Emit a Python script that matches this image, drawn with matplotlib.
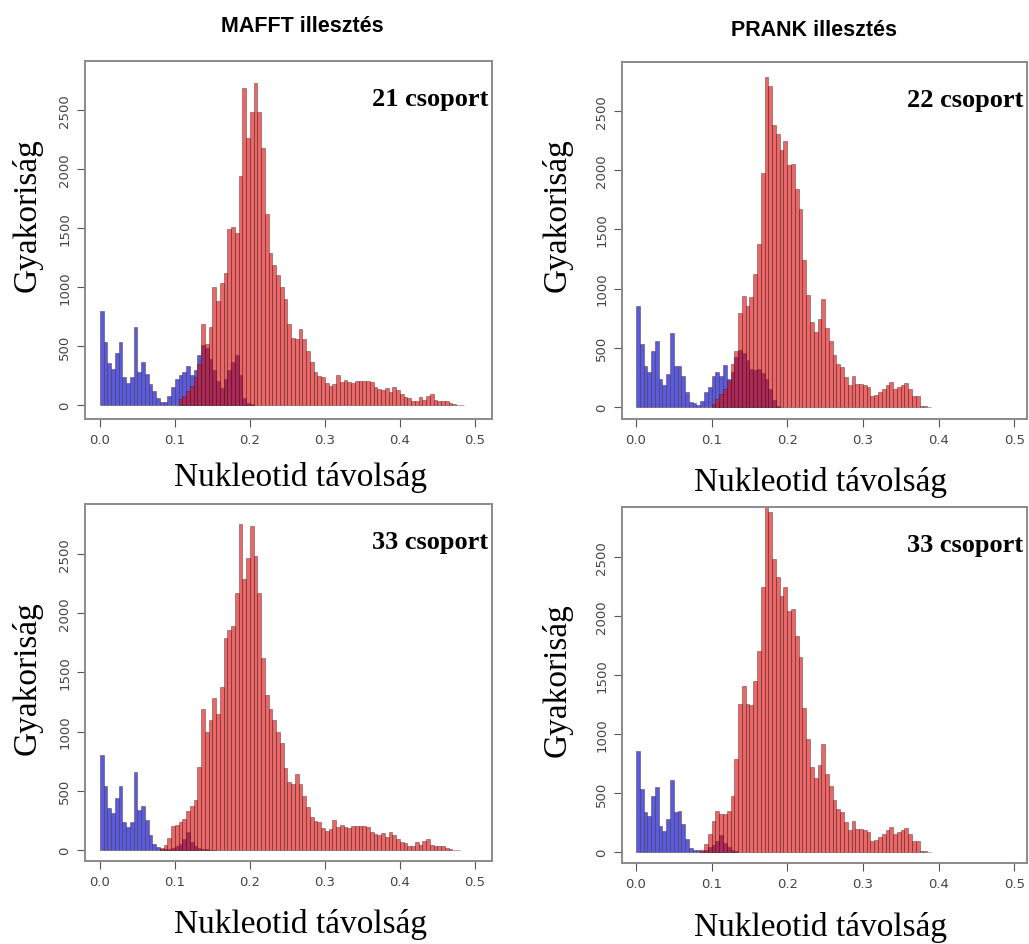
import numpy as np
import matplotlib
matplotlib.use("Agg")
import matplotlib.pyplot as plt

# bin width of every histogram (nucleotide distance)
bin_width = 0.005

# ---- MAFFT, 21 groups (top left) ----
mafft21_blue = [800, 537, 356, 305, 440, 537, 234, 186, 234, 658, 277, 367, 263, 178, 121, 56, 28, 22,
                79, 150, 220, 250, 280, 330, 250, 300, 420, 510, 480, 390, 300, 200, 140, 220, 300, 360,
                420, 250, 60, 15, 5]
mafft21_red_from = 0.105
mafft21_red = [50, 80, 120, 160, 240, 350, 690, 520, 660, 1000, 880, 1030, 1120, 1490, 1510, 1460, 1940,
               2690, 2260, 2480, 2730, 2480, 2180, 1620, 1290, 1190, 1100, 1000, 900, 690, 570, 555, 645,
               560, 460, 362, 277, 243, 234, 186, 158, 178, 254, 192, 215, 198, 186, 206, 206, 200, 206,
               198, 150, 136, 127, 141, 113, 150, 130, 93, 65, 56, 37, 37, 65, 45, 79, 93, 45, 37, 37, 37,
               17, 8, 3, 2]

# ---- PRANK, 22 groups (top right) ----
prank22_blue = [856, 532, 344, 299, 476, 561, 237, 186, 279, 622, 344, 349, 265, 130, 39, 31, 17, 54,
                124, 166, 265, 299, 265, 355, 237, 300, 420, 480, 460, 400, 320, 310, 320, 290, 240, 150,
                60, 10]
prank22_red_from = 0.100
prank22_red = [25, 70, 110, 150, 220, 360, 470, 790, 935, 850, 930, 1120, 1380, 1980, 2790, 2710, 2380,
               2310, 2175, 2250, 2040, 2055, 1840, 1670, 1240, 950, 720, 630, 740, 915, 665, 560, 440,
               363, 335, 251, 186, 265, 194, 194, 186, 166, 96, 101, 124, 152, 186, 208, 152, 166, 186,
               203, 152, 96, 90, 11, 6, 2]

# ---- MAFFT, 33 groups (bottom left) ----
mafft33_blue = [803, 538, 352, 313, 439, 538, 239, 192, 234, 662, 340, 370, 250, 125, 50, 22, 10, 8, 10,
                15, 30, 50, 90, 150, 70, 30, 15, 8, 5, 3, 2]
mafft33_red_from = 0.080
mafft33_red = [15, 40, 100, 200, 215, 235, 260, 330, 370, 420, 700, 1190, 1000, 1100, 1280, 1150, 1380,
               1790, 1860, 1890, 2170, 2750, 2290, 2470, 2735, 2480, 2170, 1620, 1310, 1190, 1100, 1000,
               900, 690, 570, 555, 645, 560, 460, 362, 277, 243, 234, 186, 158, 178, 254, 192, 215, 198,
               186, 206, 206, 200, 206, 198, 150, 136, 127, 141, 113, 150, 130, 93, 65, 56, 37, 37, 65,
               45, 79, 93, 45, 37, 37, 37, 17, 8, 3, 2]

# ---- PRANK, 33 groups (bottom right) ----
prank33_blue = [859, 534, 342, 302, 472, 548, 223, 181, 280, 613, 342, 350, 237, 110, 35, 20, 15, 10, 20,
                40, 60, 90, 140, 80, 40, 15, 5]
prank33_red_from = 0.085
prank33_red = [20, 68, 153, 265, 350, 322, 322, 350, 477, 788, 1254, 1410, 1254, 1246, 1452, 1706, 2243,
               2960, 2884, 2483, 2328, 2172, 2243, 2045, 2059, 1833, 1650, 1217, 958, 720, 630, 740, 915,
               665, 560, 440, 363, 335, 251, 186, 265, 194, 194, 186, 166, 96, 101, 124, 152, 186, 208,
               152, 166, 186, 203, 152, 96, 90, 11, 6, 2]

x_ticks = [0.0, 0.1, 0.2, 0.3, 0.4, 0.5]
x_ticklabels = ["0.0", "0.1", "0.2", "0.3", "0.4", "0.5"]
y_ticks = [0, 500, 1000, 1500, 2000, 2500]

W, H = 1029, 945
fig = plt.figure(figsize=(W / 100, H / 100), dpi=100)

blue_fill = "#5a5ade"
red_fill = (0.88, 0.04, 0.04, 0.62)   # salmon on white, maroon over the blue
edge = (0.2, 0.1, 0.1, 0.6)


def px_axes(left, top, right, bottom):
    # place an axes box by pixel corners of the 1029x945 canvas
    return fig.add_axes([left / W, 1 - bottom / H, (right - left) / W, (bottom - top) / H])


def draw_panel(ax, blue, red_from, red, label, xlim, ylim):
    blue_x = np.arange(len(blue)) * bin_width
    red_x = red_from + np.arange(len(red)) * bin_width
    ax.bar(blue_x, blue, width=bin_width, align="edge", color=blue_fill, edgecolor=edge, linewidth=0.45)
    ax.bar(red_x, red, width=bin_width, align="edge", color=red_fill, edgecolor=edge, linewidth=0.45)
    ax.set_xlim(*xlim)
    ax.set_ylim(*ylim)
    ax.set_xticks(x_ticks)
    ax.set_xticklabels(x_ticklabels)
    ax.set_yticks(y_ticks)
    ax.set_yticklabels([str(v) for v in y_ticks], rotation=90, va="center")
    ax.tick_params(direction="out", length=6, width=0.8, color="#555555",
                   labelsize=9.5, labelcolor="#444444", pad=4)
    for s in ax.spines.values():
        s.set_color("#8a8a8a")
        s.set_linewidth(1.4)
    ax.text(0.99, 0.877, label, transform=ax.transAxes, ha="right", va="baseline",
            fontsize=19, fontweight="bold", family="Liberation Serif")


ax1 = px_axes(85, 62, 492, 420)
draw_panel(ax1, mafft21_blue, mafft21_red_from, mafft21_red, "21 csoport", (-0.02, 0.5227), (-119, 2915))

ax2 = px_axes(622, 63, 1027, 420)
draw_panel(ax2, prank22_blue, prank22_red_from, prank22_red, "22 csoport", (-0.0185, 0.517), (-101, 2914))

ax3 = px_axes(85, 505, 492, 862)
draw_panel(ax3, mafft33_blue, mafft33_red_from, mafft33_red, "33 csoport", (-0.02, 0.5227), (-93, 2922))

ax4 = px_axes(622, 508, 1027, 864)
draw_panel(ax4, prank33_blue, prank33_red_from, prank33_red, "33 csoport", (-0.0185, 0.517), (-93, 2923))

# column titles
fig.text(302 / W, 1 - 27 / H, "MAFFT illesztés", ha="center", va="center",
         fontsize=15.5, fontweight="bold", family="Liberation Sans")
fig.text(814 / W, 1 - 30 / H, "PRANK illesztés", ha="center", va="center",
         fontsize=15.5, fontweight="bold", family="Liberation Sans")

# axis titles
for cx, cy in [(27, 215), (557, 215), (27, 678), (557, 680)]:
    fig.text(cx / W, 1 - cy / H, "Gyakoriság", rotation=90, ha="center", va="center",
             fontsize=24, family="Liberation Serif")
for cx, cy in [(300, 478), (820, 482), (300, 925), (820, 928)]:
    fig.text(cx / W, 1 - cy / H, "Nukleotid távolság", ha="center", va="center",
             fontsize=24, family="Liberation Serif")

plt.savefig("out.png", dpi=100)
